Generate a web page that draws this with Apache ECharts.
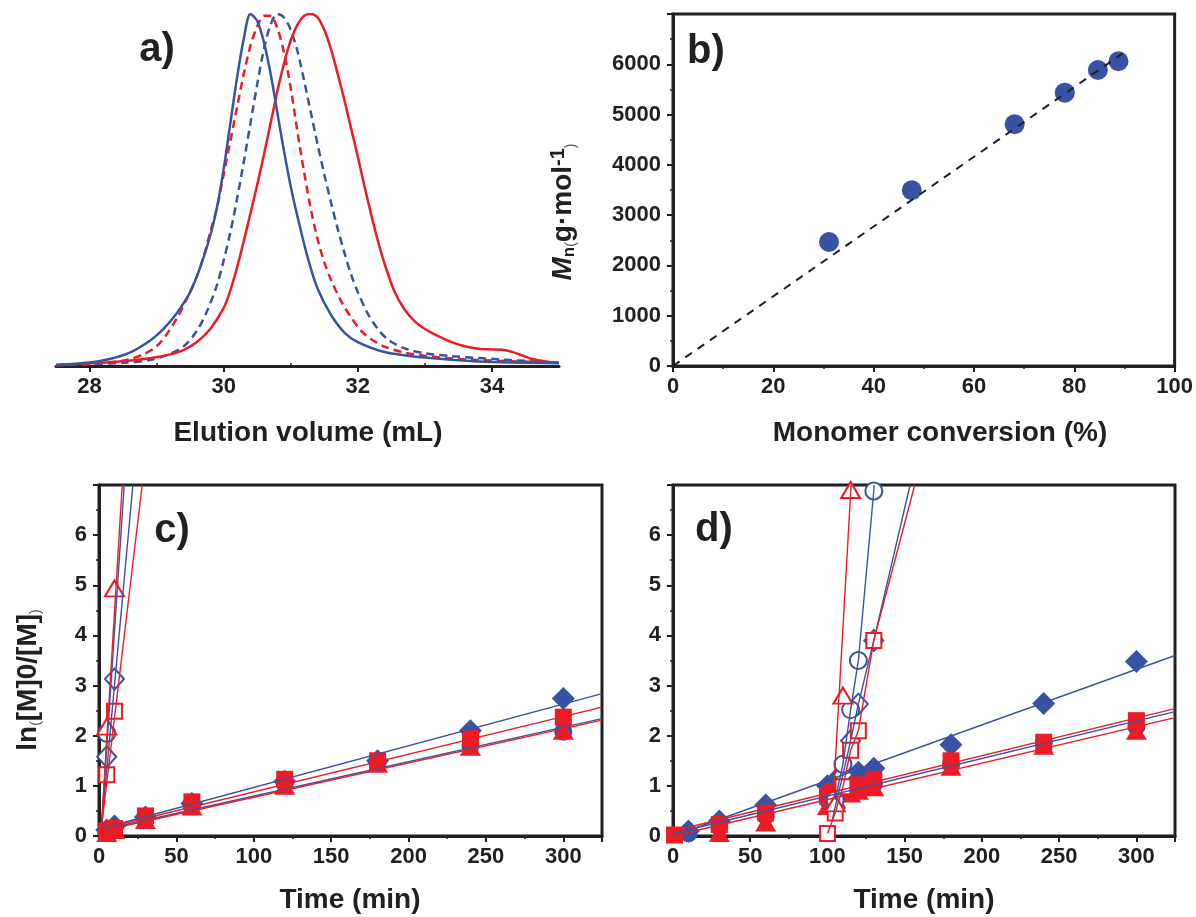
<!DOCTYPE html>
<html><head><meta charset="utf-8">
<script src="https://cdn.jsdelivr.net/npm/echarts@6/dist/echarts.min.js"></script>
<style>html,body{margin:0;padding:0;background:#fff}#c{width:1196px;height:917px}</style>
</head><body><div id="c"></div>
<script>
// ---------------- Panel a: GPC traces (elution volume mL, normalised intensity)
const gpcBlueSolid = [[27.5,0.003],[28.0,0.01],[28.3,0.02],[28.6,0.038],[28.9,0.072],[29.1,0.105],[29.3,0.15],[29.5,0.21],[29.65,0.28],[29.8,0.37],[29.9,0.45],[30.0,0.56],[30.1,0.69],[30.2,0.82],[30.3,0.93],[30.4,1.0],[30.5,0.98],[30.6,0.92],[30.7,0.83],[30.8,0.72],[30.9,0.61],[31.0,0.51],[31.1,0.425],[31.25,0.31],[31.4,0.22],[31.6,0.145],[31.8,0.095],[32.0,0.068],[32.4,0.04],[33.0,0.024],[33.8,0.013],[35.0,0.008]];
const gpcRedDashed = [[27.5,0.003],[28.2,0.008],[28.55,0.017],[28.8,0.033],[29.0,0.056],[29.15,0.09],[29.3,0.135],[29.45,0.19],[29.6,0.255],[29.7,0.31],[29.8,0.38],[29.9,0.45],[30.0,0.545],[30.1,0.64],[30.2,0.735],[30.3,0.83],[30.4,0.91],[30.5,0.965],[30.6,0.995],[30.7,0.995],[30.8,0.96],[30.9,0.89],[31.0,0.79],[31.1,0.665],[31.2,0.55],[31.3,0.445],[31.4,0.36],[31.5,0.295],[31.6,0.245],[31.75,0.185],[31.9,0.138],[32.05,0.1],[32.2,0.076],[32.4,0.055],[32.7,0.038],[33.0,0.029],[33.5,0.02],[34.2,0.014],[35.0,0.01]];
const gpcBlueDashed = [[27.5,0.002],[28.5,0.009],[28.9,0.017],[29.15,0.031],[29.4,0.055],[29.6,0.1],[29.75,0.155],[29.9,0.23],[30.0,0.3],[30.1,0.38],[30.2,0.475],[30.3,0.58],[30.4,0.69],[30.5,0.8],[30.6,0.9],[30.7,0.97],[30.8,1.0],[30.9,0.99],[31.0,0.955],[31.1,0.895],[31.2,0.81],[31.3,0.72],[31.4,0.63],[31.5,0.545],[31.6,0.465],[31.7,0.39],[31.8,0.322],[31.9,0.26],[32.0,0.21],[32.15,0.148],[32.3,0.105],[32.45,0.075],[32.7,0.05],[33.0,0.036],[33.4,0.028],[34.1,0.019],[35.0,0.009]];
const gpcRedSolid = [[27.5,0.002],[28.4,0.012],[28.9,0.022],[29.2,0.033],[29.4,0.045],[29.6,0.068],[29.8,0.105],[30.0,0.165],[30.1,0.215],[30.2,0.28],[30.3,0.355],[30.4,0.434],[30.5,0.515],[30.6,0.60],[30.7,0.69],[30.8,0.78],[30.9,0.86],[31.0,0.925],[31.1,0.97],[31.2,0.995],[31.3,1.0],[31.4,0.99],[31.5,0.955],[31.6,0.9],[31.7,0.83],[31.8,0.755],[31.9,0.675],[32.0,0.595],[32.1,0.51],[32.2,0.43],[32.3,0.355],[32.4,0.29],[32.55,0.21],[32.7,0.16],[32.85,0.127],[33.0,0.105],[33.2,0.085],[33.4,0.068],[33.6,0.056],[33.8,0.049],[34.0,0.047],[34.15,0.046],[34.3,0.04],[34.45,0.03],[34.6,0.02],[34.8,0.013],[35.0,0.009]];
const elutionTicks = [28,30,32,34];
const elutionMinorTicks = [29,31,33];

// ---------------- Panel b: Mn vs conversion
const conversion = [31.1,47.6,68.1,78.1,84.7,88.8];
const mnValues = [2466,3494,4807,5436,5887,6060];
const mnTrend = [[0,0],[89.6,6213]];

// ---------------- Panel c: kinetics
const cTimes = [5,10,30,60,120,180,240,300];
const cBlueDiamond = [0.12,0.2,0.38,0.65,1.09,1.5,2.1,2.74];
const cBlueCircle  = [0.08,0.15,0.37,0.62,1.05,1.45,1.8,2.08];
const cRedSquare   = [0.1,0.15,0.4,0.68,1.13,1.5,1.95,2.37];
const cRedTriangle = [0.06,0.12,0.32,0.59,1.0,1.44,1.78,2.1];
const cOpenTimes = [5,10];
const cOpenBlueDiamond = [1.58,3.13];
const cOpenBlueCircle  = [2.05,null];
const cOpenRedSquare   = [1.22,2.49];
const cOpenRedTriangle = [2.18,4.94];
const cFitBlueDiamond = [[1.5,0.15],[325,2.84]];
const cFitRedSquare   = [[1.5,0.14],[325,2.57]];
const cFitBlueCircle  = [[1.5,0.12],[325,2.34]];
const cFitRedTriangle = [[1.5,0.1],[325,2.31]];
const cFitOpenRedTriangle = [[1.5,0.15],[15.0,7]];
const cFitOpenBlueCircle  = [[1.5,0.15],[16.3,7]];
const cFitOpenBlueDiamond = [[1.5,0.15],[21.9,7]];
const cFitOpenRedSquare   = [[1.5,0.15],[27.9,7]];

// ---------------- Panel d: kinetics
const dBlueDiamond = [[10,0.1],[30,0.3],[60,0.62],[100,1.0],[105,1.1],[110,1.18],[120,1.27],[130,1.35],[180,1.82],[240,2.64],[300,3.48]];
const dBlueCircle  = [[10,0.05],[30,0.18],[60,0.4],[100,0.72],[110,0.85],[120,0.93],[130,1.03],[180,1.43],[240,1.85],[300,2.18]];
const dRedSquare   = [[1,0.02],[30,0.23],[60,0.46],[100,0.8],[103,0.88],[110,0.95],[115,0.98],[120,1.02],[130,1.13],[180,1.5],[240,1.87],[300,2.3]];
const dRedTriangle = [[30,0.06],[60,0.27],[100,0.6],[105,0.72],[115,0.85],[120,0.9],[130,0.97],[180,1.38],[240,1.8],[300,2.1]];
const dOpenRedTriangle = [[105,0.65],[110,2.8],[115,6.9]];
const dOpenBlueCircle  = [[105,0.72],[110,1.43],[115,2.52],[120,3.5],[130,6.88]];
const dOpenBlueDiamond = [[105,0.58],[110,1.22],[115,1.9],[120,2.63],[130,3.9]];
const dOpenRedSquare   = [[100,0.05],[105,0.46],[110,0.98],[115,1.71],[120,2.1],[130,3.9]];
const dFitBlueDiamond = [[0,0.0],[325,3.6]];
const dFitRedSquare   = [[0,0.1],[325,2.54]];
const dFitBlueCircle  = [[0,0.05],[325,2.48]];
const dFitRedTriangle = [[0,0.0],[325,2.36]];
const dFitOpenRedTriangle = [[104,0.9],[115.3,7]];
const dFitOpenBlueCircle  = [[105,0.72],[110,1.43],[115,2.52],[120,3.5],[130,6.88],[130.2,7]];
const dFitOpenBlueDiamond = [[103,0.3],[105,0.58],[110,1.22],[115,1.9],[120,2.63],[130,3.9],[153.5,7]];
const dFitOpenRedSquare   = [[100,0.05],[105,0.46],[110,0.98],[115,1.71],[120,2.1],[130,3.9],[156.5,7]];

// ---------------- styling
const BLUE = '#3953a4', RED = '#ed1c24', INK = '#231f20';
const FONT = '"Liberation Sans", Arial, Helvetica, sans-serif';
const zip = (xs, ys) => xs.map((x, i) => [x, ys[i]]).filter(p => p[1] != null);

const labelStyle = {color: INK, fontFamily: FONT, fontWeight: 'bold', fontSize: 22, formatter: v => String(v)};
function valAxis(o) {
  return Object.assign({
    type: 'value',
    axisLine: {show: true, onZero: false, lineStyle: {color: INK, width: 3}},
    axisTick: {show: true, length: 6, lineStyle: {color: INK, width: 2}},
    minorTick: {show: true, splitNumber: 2, length: 3, lineStyle: {color: INK, width: 1.5}},
    splitLine: {show: false},
    minorSplitLine: {show: false}
  }, o);
}

const gridBox = {show: true, borderColor: INK, borderWidth: 3, backgroundColor: 'transparent'};

const series = [];
// Panel a
function gpc(data, color, dashed) {
  series.push({type: 'line', xAxisIndex: 0, yAxisIndex: 0, data, symbol: 'none',
    smooth: 0.3, silent: true,
    lineStyle: {color, width: 2.5, type: dashed ? [8, 5] : 'solid'}});
}
gpc(gpcRedDashed, RED, true);
gpc(gpcBlueDashed, BLUE, true);
gpc(gpcRedSolid, RED, false);
gpc(gpcBlueSolid, BLUE, false);

// Panel b
series.push({type: 'line', xAxisIndex: 2, yAxisIndex: 1, data: mnTrend, symbol: 'none', silent: true,
  lineStyle: {color: INK, width: 2, type: [8, 7]}});
series.push({type: 'scatter', xAxisIndex: 2, yAxisIndex: 1, data: zip(conversion, mnValues),
  symbol: 'circle', symbolSize: 20, itemStyle: {color: BLUE, opacity: 1}});

// Panels c/d
function fit(xi, yi, data, color) {
  series.push({type: 'line', xAxisIndex: xi, yAxisIndex: yi, data, symbol: 'none', silent: true,
    clip: true, lineStyle: {color, width: 1.4}});
}
const SYM = {
  diamond: ['diamond', [23, 23]], circle: ['circle', 18], square: ['rect', 17], triangle: ['triangle', [21, 18]]
};
const OSYM = {
  diamond: ['diamond', [19, 21]], circle: ['circle', 17], square: ['rect', 15], triangle: ['triangle', [19, 16]]
};
function marks(xi, yi, data, color, shape, open) {
  const s = open ? OSYM[shape] : SYM[shape];
  series.push({type: 'scatter', xAxisIndex: xi, yAxisIndex: yi, data, symbol: s[0], symbolSize: s[1],
    clip: true,
    itemStyle: open ? {color: '#fff', borderColor: color, borderWidth: 2, opacity: 1} : {color, opacity: 1}});
}
// c
fit(3, 2, cFitBlueDiamond, BLUE); fit(3, 2, cFitBlueCircle, BLUE);
fit(3, 2, cFitRedSquare, RED); fit(3, 2, cFitRedTriangle, RED);
fit(3, 2, cFitOpenBlueDiamond, BLUE); fit(3, 2, cFitOpenBlueCircle, BLUE);
fit(3, 2, cFitOpenRedSquare, RED); fit(3, 2, cFitOpenRedTriangle, RED);
marks(3, 2, zip(cTimes, cBlueDiamond), BLUE, 'diamond');
marks(3, 2, zip(cTimes, cBlueCircle), BLUE, 'circle');
marks(3, 2, zip(cTimes, cRedSquare), RED, 'square');
marks(3, 2, zip(cTimes, cRedTriangle), RED, 'triangle');
marks(3, 2, zip(cOpenTimes, cOpenBlueCircle), BLUE, 'circle', true);
marks(3, 2, zip(cOpenTimes, cOpenBlueDiamond), BLUE, 'diamond', true);
marks(3, 2, zip(cOpenTimes, cOpenRedSquare), RED, 'square', true);
marks(3, 2, zip(cOpenTimes, cOpenRedTriangle), RED, 'triangle', true);
// d
fit(4, 3, dFitBlueDiamond, BLUE); fit(4, 3, dFitBlueCircle, BLUE);
fit(4, 3, dFitRedSquare, RED); fit(4, 3, dFitRedTriangle, RED);
fit(4, 3, dFitOpenBlueDiamond, BLUE); fit(4, 3, dFitOpenBlueCircle, BLUE);
fit(4, 3, dFitOpenRedSquare, RED); fit(4, 3, dFitOpenRedTriangle, RED);
marks(4, 3, dBlueDiamond, BLUE, 'diamond');
marks(4, 3, dBlueCircle, BLUE, 'circle');
marks(4, 3, dRedSquare, RED, 'square');
marks(4, 3, dRedTriangle, RED, 'triangle');
marks(4, 3, dOpenBlueDiamond, BLUE, 'diamond', true);
marks(4, 3, dOpenBlueCircle, BLUE, 'circle', true);
marks(4, 3, dOpenRedSquare, RED, 'square', true);
marks(4, 3, dOpenRedTriangle, RED, 'triangle', true);

function txt(x, y, text, size, extra) {
  return Object.assign({type: 'text', x, y, silent: true, z: 100,
    style: {text, fill: INK, font: 'bold ' + size + 'px ' + FONT, align: 'center', verticalAlign: 'middle'}}, extra || {});
}

const option = {
  animation: false,
  backgroundColor: '#fff',
  grid: [
    {left: 56, top: 14, width: 503, height: 352},
    Object.assign({left: 673, top: 14, width: 502, height: 352}, gridBox),
    Object.assign({left: 99, top: 485, width: 503, height: 351}, gridBox),
    Object.assign({left: 673, top: 485, width: 502, height: 351}, gridBox)
  ],
  xAxis: [
    valAxis({gridIndex: 0, min: 27.5, max: 35, minorTick: {show: false},
      axisTick: {show: true, length: 6, customValues: elutionTicks, lineStyle: {color: INK, width: 2}},
      axisLabel: Object.assign({}, labelStyle, {customValues: elutionTicks, margin: 10})}),
    valAxis({gridIndex: 0, min: 27.5, max: 35, axisLine: {show: false}, minorTick: {show: false},
      axisTick: {show: true, length: 3, customValues: elutionMinorTicks, lineStyle: {color: INK, width: 1.5}},
      axisLabel: {show: false}}),
    valAxis({gridIndex: 1, min: 0, max: 100, interval: 20, axisLabel: Object.assign({}, labelStyle, {margin: 10})}),
    valAxis({gridIndex: 2, min: 0, max: 325, interval: 50, axisLabel: Object.assign({}, labelStyle, {margin: 10, showMaxLabel: false})}),
    valAxis({gridIndex: 3, min: 0, max: 325, interval: 50, axisLabel: Object.assign({}, labelStyle, {margin: 10, showMaxLabel: false})})
  ],
  yAxis: [
    {type: 'value', gridIndex: 0, min: 0, max: 1, show: false},
    valAxis({gridIndex: 1, min: 0, max: 7000, interval: 1000, axisLabel: Object.assign({}, labelStyle, {margin: 12, showMaxLabel: false})}),
    valAxis({gridIndex: 2, min: 0, max: 7, interval: 1, axisLabel: Object.assign({}, labelStyle, {margin: 12, showMaxLabel: false})}),
    valAxis({gridIndex: 3, min: 0, max: 7, interval: 1, axisLabel: Object.assign({}, labelStyle, {margin: 12, showMaxLabel: false})})
  ],
  series,
  graphic: [
    txt(157, 50, 'a)', 40), txt(706, 52, 'b)', 40), txt(172, 531, 'c)', 40), txt(714, 530, 'd)', 40),
    txt(308, 433, 'Elution volume (mL)', 28),
    txt(940, 433, 'Monomer conversion (%)', 28),
    txt(350, 900, 'Time (min)', 28),
    txt(924, 900, 'Time (min)', 28),
    {type: 'text', x: 563, y: 212, rotation: Math.PI / 2, silent: true, z: 100,
      style: {text: '{i|M}{s|n}{p|(}{a|g·mol}{u|-1}{p|)}', align: 'center', verticalAlign: 'middle', fill: INK,
        rich: {
          i: {fontFamily: FONT, fontWeight: 'bold', fontStyle: 'italic', fontSize: 28, lineHeight: 30, fill: INK},
          s: {fontFamily: FONT, fontWeight: 'bold', fontSize: 17, lineHeight: 17, verticalAlign: 'bottom', fill: INK},
          p: {fontFamily: FONT, fontSize: 14, lineHeight: 14, verticalAlign: 'bottom', fill: '#555'},
          a: {fontFamily: FONT, fontWeight: 'bold', fontSize: 28, lineHeight: 30, fill: INK},
          u: {fontFamily: FONT, fontWeight: 'bold', fontSize: 20, lineHeight: 20, verticalAlign: 'top', fill: INK}
        }}},
    {type: 'text', x: 28, y: 680, rotation: Math.PI / 2, silent: true, z: 100,
      style: {text: '{a|ln}{p|(}{a|[M]0/[M]}{p|)}', align: 'center', verticalAlign: 'middle', fill: INK,
        rich: {
          a: {fontFamily: FONT, fontWeight: 'bold', fontSize: 28, lineHeight: 30, fill: INK},
          p: {fontFamily: FONT, fontSize: 14, lineHeight: 14, verticalAlign: 'bottom', fill: '#555'}
        }}}
  ]
};
const chart = echarts.init(document.getElementById('c'), null, {renderer: 'canvas'});
chart.setOption(option);
</script></body></html>
